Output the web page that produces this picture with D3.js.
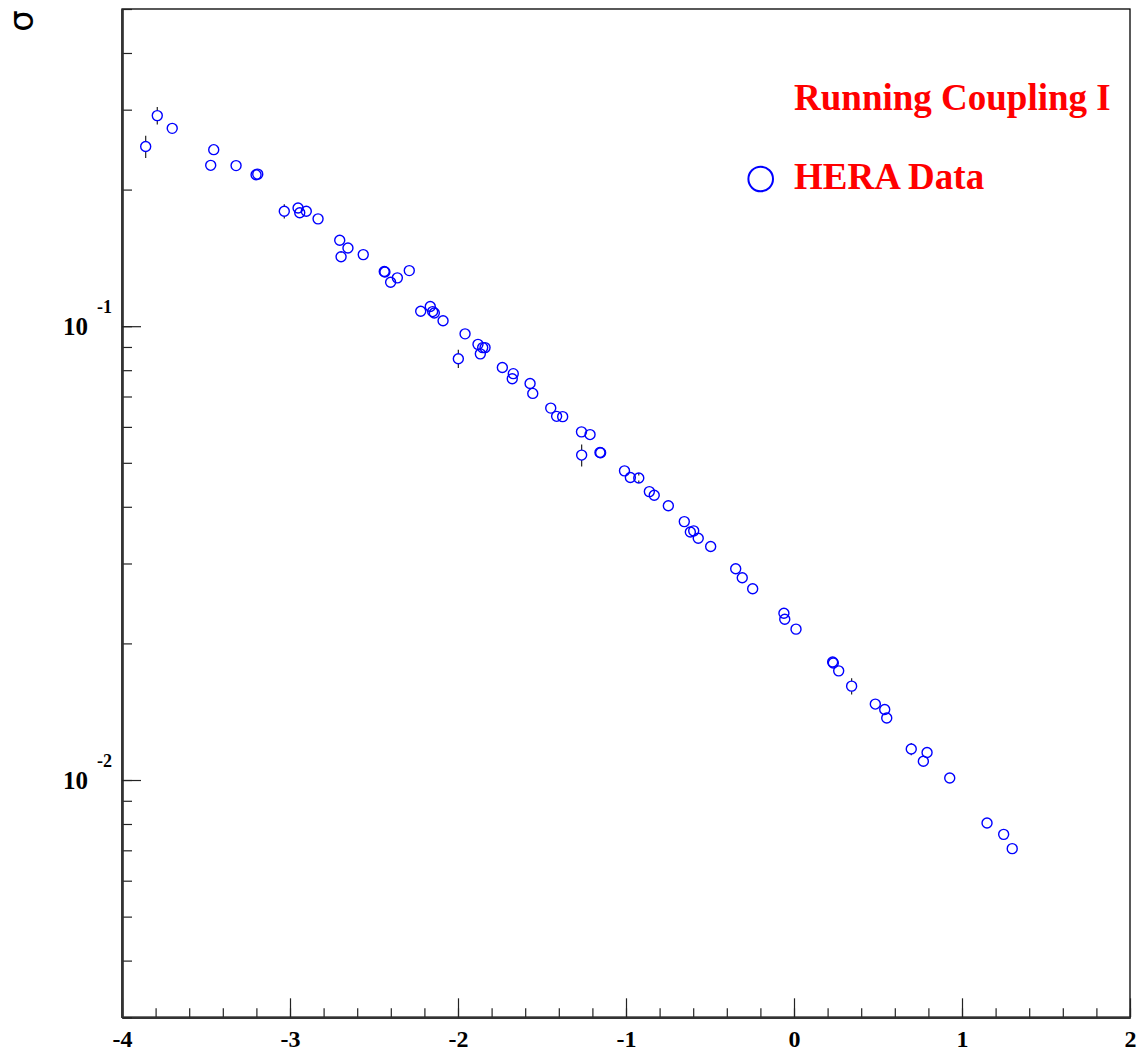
<!DOCTYPE html>
<html>
<head>
<meta charset="utf-8">
<script src="https://cdn.jsdelivr.net/npm/d3@7"></script>
<style>
	body { margin: 0; background: #fff; }
	#graphicContainer { width: 1137px; height: 1054px; }
	.tickLabel { font-family: "Liberation Serif", "Times New Roman", serif; font-weight: bold; fill: #000; }
</style>
</head>
<body>
<div id="graphicContainer"></div>
<script>

// ln(1/x) style abscissa
var xVals = [-3.859, -3.790, -3.701, -3.454, -3.472, -3.321, -3.202, -3.192, -3.034, -2.952,
	-2.942, -2.903, -2.833, -2.704, -2.655, -2.696, -2.564, -2.439, -2.435, -2.401,
	-2.361, -2.290, -2.222, -2.165, -2.151, -2.141, -2.089, -1.958, -1.881, -1.853,
	-1.839, -1.867, -1.998, -1.736, -1.671, -1.677, -1.571, -1.555, -1.448, -1.413,
	-1.377, -1.265, -1.214, -1.264, -1.155, -1.151, -1.009, -0.974, -0.924, -0.861,
	-0.832, -0.748, -0.653, -0.617, -0.597, -0.570, -0.496, -0.347, -0.308, -0.246,
	-0.060, -0.055, 0.012, 0.230, 0.234, 0.266, 0.343, 0.484, 0.540, 0.552,
	0.698, 0.792, 0.770, 0.927, 1.149, 1.248, 1.299]

var sigma = [0.2488, 0.2911, 0.2729, 0.2449, 0.2262, 0.2259, 0.2157, 0.2163, 0.1792, 0.1822,
	0.1778, 0.1792, 0.1724, 0.1547, 0.1487, 0.1422, 0.1438, 0.1320, 0.1317, 0.1250,
	0.1278, 0.1326, 0.1079, 0.1105, 0.1077, 0.1069, 0.1028, 0.0962, 0.0912, 0.0897,
	0.0897, 0.0869, 0.0848, 0.0811, 0.0786, 0.0766, 0.0748, 0.0711, 0.0660, 0.0633,
	0.0632, 0.0585, 0.0577, 0.0520, 0.0527, 0.0526, 0.0480, 0.0464, 0.0463, 0.0432,
	0.0424, 0.0402, 0.0371, 0.0352, 0.0354, 0.0341, 0.0327, 0.0292, 0.0279, 0.0264,
	0.0233, 0.0226, 0.0215, 0.0182, 0.0181, 0.0174, 0.0161, 0.0147, 0.0143, 0.0137,
	0.0117, 0.0115, 0.0110, 0.0101, 0.00804, 0.00759, 0.00706]

var sigmaErr = [0.014, 0.013, 0, 0, 0, 0, 0, 0, 0.0064, 0,
	0, 0, 0, 0, 0, 0.003, 0, 0, 0, 0,
	0, 0, 0, 0, 0, 0, 0, 0, 0, 0,
	0, 0, 0.0039, 0, 0, 0, 0, 0, 0, 0,
	0, 0, 0, 0.0029, 0, 0, 0, 0, 0.0006, 0,
	0, 0, 0, 0, 0, 0, 0, 0, 0, 0,
	0, 0, 0, 0, 0, 0, 0.00066, 0, 0, 0,
	0.00036, 0, 0, 0, 0, 0, 0]

var xDomain = [-4, 2]
var yDomain = [0.003, 0.5]
var xMajor = [-4, -3, -2, -1, 0, 1, 2]
var yMajor = [0.1, 0.01]
var yMajorLabels = ["-1", "-2"]
var legendTitle = "Running Coupling I"
var legendEntry = "HERA Data"
var yTitle = "σ"

function init() {
	var width = 1137
	var height = 1054
	var margin = {top: 9, right: 7, bottom: 36.7, left: 122}
	var w = width - margin.left - margin.right
	var h = height - margin.top - margin.bottom

	var svg = d3.select("#graphicContainer").append("svg")
		.attr("width", width)
		.attr("height", height)

	var features = svg.append("g").attr("transform", "translate(" + margin.left + "," + margin.top + ")")

	var x = d3.scaleLinear().domain(xDomain).range([0, w])
	var y = d3.scaleLog().domain(yDomain).range([h, 0])

	// frame
	features.append("rect")
		.attr("x", 0).attr("y", 0)
		.attr("width", w).attr("height", h)
		.attr("fill", "none")
		.attr("stroke", "#000")
		.attr("stroke-width", 1.3)

	// minor ticks
	var xMinor = d3.range(-4, 2.0001, 0.2).map(function(d) { return +d.toFixed(1) })
	var yMinor = []
	;[0.001, 0.01, 0.1].forEach(function(dec) {
		for (var k = 1; k <= 9; k++) {
			var v = +(dec * k).toPrecision(3)
			if (v >= yDomain[0] && v <= yDomain[1]) yMinor.push(v)
		}
	})

	features.append("g")
		.attr("class", "xminor")
		.attr("transform", "translate(0," + h + ")")
		.call(d3.axisBottom(x).tickValues(xMinor).tickSizeInner(-9).tickSizeOuter(0).tickFormat(""))

	features.append("g")
		.attr("class", "xmajor")
		.attr("transform", "translate(0," + h + ")")
		.call(d3.axisBottom(x).tickValues(xMajor).tickSizeInner(-19).tickSizeOuter(0).tickPadding(13).tickFormat(d3.format("d")))

	features.append("g")
		.attr("class", "yminor")
		.call(d3.axisLeft(y).tickValues(yMinor).tickSizeInner(-10).tickSizeOuter(0).tickFormat(""))

	features.append("g")
		.attr("class", "ymajor")
		.call(d3.axisLeft(y).tickValues(yMajor).tickSizeInner(-19).tickSizeOuter(0).tickFormat(""))

	svg.selectAll(".domain").attr("stroke", "#333").attr("stroke-width", 2.2)
	svg.selectAll(".tick line").attr("stroke", "#222").attr("stroke-width", 1.2)

	features.selectAll(".xmajor .tick text")
		.attr("class", "tickLabel")
		.style("font-size", "24px")
		.text(function(d) { return d < 0 ? "-" + Math.abs(d) : d })

	// 10^n labels
	var yl = features.append("g")
	yMajor.forEach(function(v, i) {
		yl.append("text")
			.attr("class", "tickLabel")
			.attr("x", -34)
			.attr("y", y(v) + 9)
			.attr("text-anchor", "end")
			.style("font-size", "25px")
			.text("10")
		yl.append("text")
			.attr("class", "tickLabel")
			.attr("x", -25)
			.attr("y", y(v) - 13)
			.style("font-size", "18px")
			.text(yMajorLabels[i])
	})

	// y title
	svg.append("text")
		.attr("transform", "translate(33,21) rotate(-90)")
		.attr("text-anchor", "middle")
		.style("font-family", "'DejaVu Sans', sans-serif")
		.style("font-size", "34px")
		.attr("fill", "#000")
		.text(yTitle)

	// data
	var data = xVals.map(function(d, i) { return {x: d, s: sigma[i], e: sigmaErr[i]} })
	var r = 5

	var errs = features.append("g")
	data.filter(function(d) { return d.e > 0 }).forEach(function(d) {
		var cx = x(d.x), cy = y(d.s)
		errs.append("line")
			.attr("x1", cx).attr("x2", cx)
			.attr("y1", y(d.s + d.e)).attr("y2", cy - r)
			.attr("stroke", "#222").attr("stroke-width", 1.2)
		errs.append("line")
			.attr("x1", cx).attr("x2", cx)
			.attr("y1", cy + r).attr("y2", y(d.s - d.e))
			.attr("stroke", "#222").attr("stroke-width", 1.2)
	})

	features.selectAll(".pt")
		.data(data)
		.enter().append("circle")
		.attr("class", "pt")
		.attr("cx", function(d) { return x(d.x) })
		.attr("cy", function(d) { return y(d.s) })
		.attr("r", r)
		.attr("fill", "none")
		.attr("stroke", "#0000ff")
		.attr("stroke-width", 1.4)

	// legend
	svg.append("text")
		.attr("x", 794).attr("y", 110)
		.style("font-family", "'Liberation Serif', 'Times New Roman', serif")
		.style("font-weight", "bold")
		.style("font-size", "37px")
		.attr("fill", "#ff0000")
		.text(legendTitle)

	svg.append("circle")
		.attr("cx", 760.7).attr("cy", 179)
		.attr("r", 12.3)
		.attr("fill", "none")
		.attr("stroke", "#0000ff")
		.attr("stroke-width", 2)

	svg.append("text")
		.attr("x", 794).attr("y", 189)
		.style("font-family", "'Liberation Serif', 'Times New Roman', serif")
		.style("font-weight", "bold")
		.style("font-size", "37px")
		.attr("fill", "#ff0000")
		.text(legendEntry)
}

init()
</script>
</body>
</html>
